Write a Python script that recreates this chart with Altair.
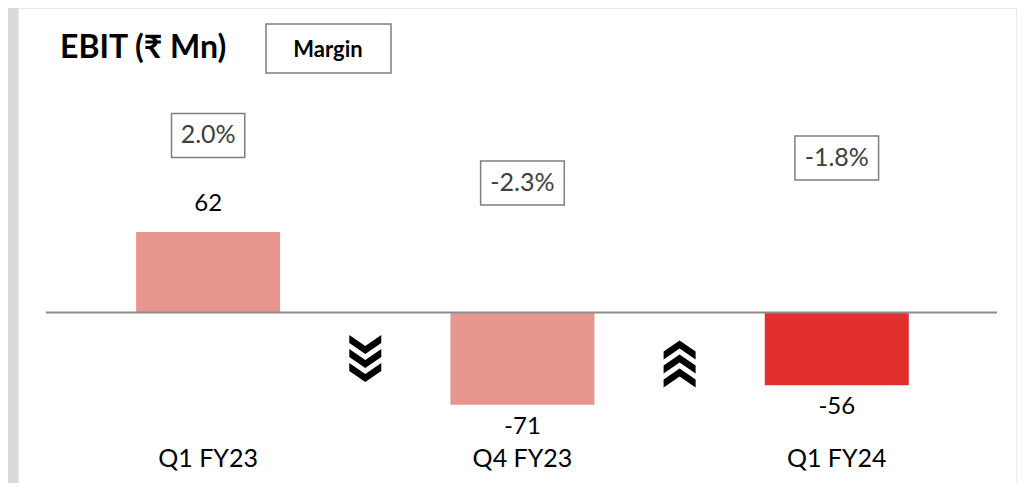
import altair as alt
import pandas as pd

# ---- data ----
quarters = ["Q1 FY23", "Q4 FY23", "Q1 FY24"]
ebit = [62, -71, -56]
margin_pct = [2.0, -2.3, -1.8]
trend_from = [0, 1]            # arrow sits between quarter i and i+1
trend_dir = ["down", "up"]

# ---- layout / style constants ----
bar_colors = ["#E6958F", "#E6958F", "#E12F2E"]
margin_box_y = [136.2, 99.6, 118.8]      # vertical anchor of margin boxes (value units)
arrow_y = [-35.4, -39.6]
FONT = "Lato, Noto Sans, DejaVu Sans"
PX_PER_IDX = 317.5
PX_PER_UNIT = 1.30

xscale = alt.Scale(domain=[-0.58898, 2.55433], nice=False, zero=False)
yscale = alt.Scale(domain=[-131.15, 234.23], nice=False, zero=False)

df = pd.DataFrame({
    "quarter": quarters,
    "idx": list(range(len(quarters))),
    "ebit": ebit,
    "margin": margin_pct,
    "box_y": margin_box_y,
    "color": bar_colors,
})
df["margin_label"] = [f"{m:.1f}%" for m in margin_pct]
df["value_label"] = [str(v) for v in ebit]


def chevron_path(direction):
    # triple chevron in px, normalised to [-1, 1] by half-height 23.5
    h = 23.5
    pts_all = []
    for t in (-23.5, -9.5, 4.5):
        pts = [(-16, t), (0, t + 11), (16, t), (16, t + 8), (0, t + 19), (-16, t + 8)]
        if direction == "up":
            pts = [(x, -y) for x, y in pts]
        pts_all.append("M" + " L".join(f"{x / h:.4f},{y / h:.4f}" for x, y in pts) + " Z")
    return " ".join(pts_all)


arrows = pd.DataFrame({
    "pos": [i + 0.5 for i in trend_from],
    "ay": arrow_y,
    "path": [chevron_path(d) for d in trend_dir],
})

X = alt.X("idx:Q", scale=xscale, axis=None)

bars = alt.Chart(df).mark_bar(size=144).encode(
    x=X,
    y=alt.Y("ebit:Q", scale=yscale, axis=None),
    y2=alt.datum(0),
    color=alt.Color("color:N", scale=None),
)

zero_line = alt.Chart(pd.DataFrame({"z": [0]})).mark_rule(
    color="#8c8c8c", strokeWidth=2
).encode(
    x=alt.value(28), x2=alt.value(979),
    y=alt.Y("z:Q", scale=yscale, axis=None),
)

pos_labels = alt.Chart(df).transform_filter("datum.ebit >= 0").mark_text(
    font=FONT, fontSize=24, color="#000000", baseline="middle", dy=-28
).encode(x=X, y=alt.Y("ebit:Q", scale=yscale, axis=None), text="value_label:N")

neg_labels = alt.Chart(df).transform_filter("datum.ebit < 0").mark_text(
    font=FONT, fontSize=24, color="#000000", baseline="middle", dy=22
).encode(x=X, y=alt.Y("ebit:Q", scale=yscale, axis=None), text="value_label:N")

boxes = alt.Chart(df).transform_calculate(
    half_w=f"(32 + 10.5 * length(datum.margin_label)) / 2 / {PX_PER_IDX}",
    x_lo="datum.idx - datum.half_w",
    x_hi="datum.idx + datum.half_w",
    y_lo=f"datum.box_y - 22 / {PX_PER_UNIT}",
    y_hi=f"datum.box_y + 22 / {PX_PER_UNIT}",
).mark_rect(fill="#ffffff", stroke="#7f7f7f", strokeWidth=1.5).encode(
    x=alt.X("x_lo:Q", scale=xscale, axis=None),
    x2="x_hi:Q",
    y=alt.Y("y_lo:Q", scale=yscale, axis=None),
    y2="y_hi:Q",
)

box_text = alt.Chart(df).mark_text(
    font=FONT, fontSize=25, color="#404040", baseline="middle"
).encode(x=X, y=alt.Y("box_y:Q", scale=yscale, axis=None), text="margin_label:N")

cat_labels = alt.Chart(df).mark_text(
    font=FONT, fontSize=25, color="#000000", baseline="middle"
).encode(x=X, y=alt.value(451), text="quarter:N")

arrow_marks = alt.Chart(arrows).mark_point(
    filled=True, fill="#000000", strokeWidth=0, opacity=1, size=47 * 47
).encode(
    x=alt.X("pos:Q", scale=xscale, axis=None),
    y=alt.Y("ay:Q", scale=yscale, axis=None),
    shape=alt.Shape("path:N", scale=None),
)

hdr = pd.DataFrame({"t": ["EBIT (₹ Mn)"], "m": ["Margin"]})
title = alt.Chart(hdr).mark_text(
    font=FONT, fontSize=32, fontWeight="bold", color="#000000",
    align="left", baseline="middle"
).encode(x=alt.value(42), y=alt.value(40), text="t:N")

legend_box = alt.Chart(hdr).mark_rect(
    fill="#ffffff", stroke="#7f7f7f", strokeWidth=1.5
).encode(x=alt.value(248), x2=alt.value(373), y=alt.value(16), y2=alt.value(65))

legend_text = alt.Chart(hdr).mark_text(
    font=FONT, fontSize=22, fontWeight="bold", color="#000000", baseline="middle"
).encode(x=alt.value(310), y=alt.value(42), text="m:N")

chart = alt.layer(
    bars, zero_line, pos_labels, neg_labels, boxes, box_text, cat_labels,
    arrow_marks, title, legend_box, legend_text,
).properties(
    width=998, height=475,
    padding={"left": 10, "right": 1, "top": 0, "bottom": 0},
    autosize=alt.AutoSizeParams(type="none"),
    background="#d9d9d9",
).configure_view(fill="#ffffff", stroke="transparent")

chart.save("out.html", embed_options={"renderer": "svg", "actions": False})
